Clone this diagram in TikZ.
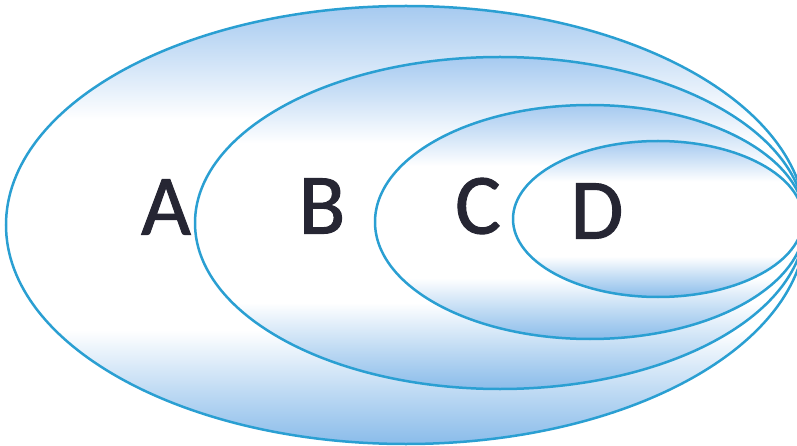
\documentclass[tikz,border=0pt]{standalone}
\usepackage{fontspec}
\setmainfont{Carlito}
\newfontfamily\lblfont{Carlito}[FakeBold=1.1]
\definecolor{edgeblue}{HTML}{2A9FD2}
\definecolor{topblue}{HTML}{A6CAF0}
\definecolor{botblue}{HTML}{8ABCEA}
\definecolor{lettergray}{HTML}{262633}
\pgfdeclareverticalshading{ellshade}{100bp}{color(0bp)=(botblue); color(25bp)=(botblue); color(31bp)=(botblue!55!white); color(38bp)=(white); color(62bp)=(white); color(69bp)=(topblue!55!white); color(75bp)=(topblue); color(100bp)=(topblue)}
\tikzset{
  ell/.style={draw=edgeblue, line width=2.5pt, shading=ellshade},
  lbl/.style={text=lettergray, font=\lblfont\fontsize{86}{86}\selectfont, inner sep=0pt, anchor=center}
}
\begin{document}
\begin{tikzpicture}[x=1pt,y=-1pt]
\useasboundingbox (0,0) rectangle (797,446);
\begin{scope}
\clip (0,0) rectangle (797,446);
\draw[ell] (406,225) ellipse [x radius=400, y radius=219];
\draw[ell] (500,223) ellipse [x radius=305, y radius=166];
\draw[ell] (590,222) ellipse [x radius=215, y radius=117];
\draw[ell] (658,219) ellipse [x radius=145, y radius=78];
\end{scope}
\node[lbl] (a) at (166,207) {A};
\node[lbl] (b) at (322,206) {B};
\node[lbl] (c) at (478,206) {C};
\node[lbl] (d) at (597,211) {D};
\end{tikzpicture}
\end{document}
